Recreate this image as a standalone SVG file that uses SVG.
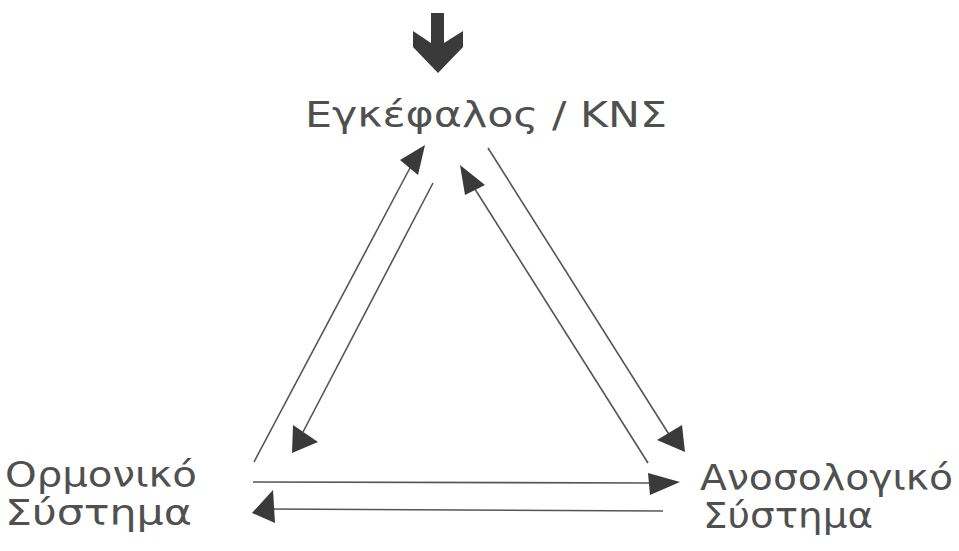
<svg xmlns="http://www.w3.org/2000/svg" width="959" height="551" viewBox="0 0 959 551">
<style>
.lbl{font-family:"DejaVu Sans","Liberation Sans",sans-serif;font-size:35px;fill:#505050}
.ln{stroke:#555;stroke-width:1.6;fill:none}
.hd{fill:#3a3a3a}
</style>
<rect width="959" height="551" fill="#fff"/>
<g id="input-arrow">
<polygon class="hd" points="431,13 444,13 444,43 463,31 463,47 438,73 413,47 413,31 431,43"/>
</g>
<g id="brain">
<text class="lbl" x="305" y="127" textLength="362" lengthAdjust="spacingAndGlyphs">Εγκέφαλος / ΚΝΣ</text>
</g>
<g id="hormonal">
<text class="lbl" x="5" y="487" textLength="192" lengthAdjust="spacingAndGlyphs">Ορμονικό</text>
<text class="lbl" x="5" y="525" textLength="187" lengthAdjust="spacingAndGlyphs">Σύστημα</text>
</g>
<g id="immune">
<text class="lbl" x="700" y="490" textLength="253" lengthAdjust="spacingAndGlyphs">Ανοσολογικό</text>
<text class="lbl" x="703" y="528" textLength="170" lengthAdjust="spacingAndGlyphs">Σύστημα</text>
</g>
<g id="connectors">
<line class="ln" x1="254" y1="462" x2="411" y2="166"/>
<polygon class="hd" points="425,145 400,160 418,175"/>
<line class="ln" x1="433" y1="183" x2="303" y2="432"/>
<polygon class="hd" points="293,425 318,442 292,453"/>
<line class="ln" x1="648" y1="463" x2="473" y2="186"/>
<polygon class="hd" points="460,165 465,195 485,185"/>
<line class="ln" x1="488" y1="148" x2="670" y2="436"/>
<polygon class="hd" points="682,425 657,440 685,452"/>
<line class="ln" x1="253" y1="482" x2="652" y2="483"/>
<polygon class="hd" points="648,473 650,495 680,482"/>
<line class="ln" x1="663" y1="511" x2="270" y2="509"/>
<polygon class="hd" points="273,490 252,513 275,523"/>
</g>
</svg>
